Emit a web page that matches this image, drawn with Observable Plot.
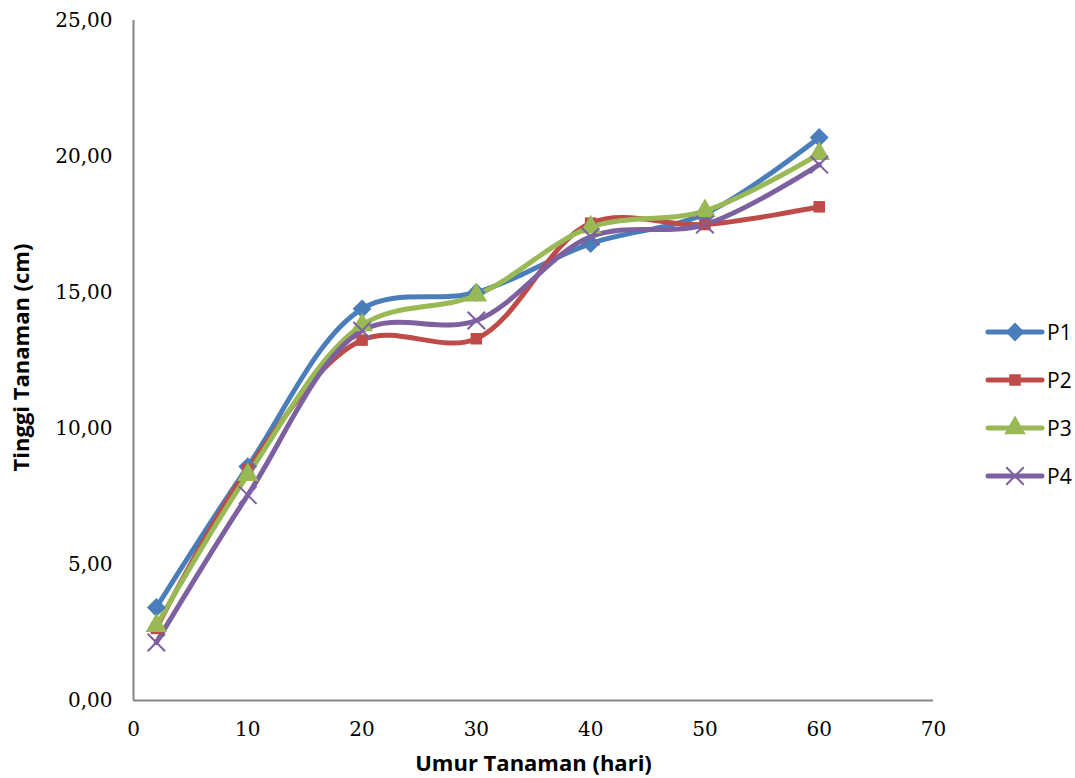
<!DOCTYPE html>
<html>
<head>
<meta charset="utf-8">
<script src="https://cdn.jsdelivr.net/npm/d3@7"></script>
<script src="https://cdn.jsdelivr.net/npm/@observablehq/plot@0.6"></script>
<style>
  html, body { margin: 0; padding: 0; background: #fff; }
  #wrap { position: relative; width: 1075px; height: 778px; }
  #legend { position: absolute; left: 985px; top: 0; font-family: "Open Sans", sans-serif; font-size: 21px; color: #000; }
  .item { position: absolute; left: 0; height: 28px; display: flex; align-items: center; white-space: nowrap; }
  .item span { margin-left: 2px; }
</style>
</head>
<body>
<div id="wrap"></div>
<script>
const days = [2, 10, 20, 30, 40, 50, 60];
const seriesNames = ["P1", "P2", "P3", "P4"];
const P1 = [3.42, 8.6, 14.4, 15.0, 16.8, 17.9, 20.7];
const P2 = [2.65, 8.5, 13.25, 13.3, 17.55, 17.5, 18.15];
const P3 = [2.75, 8.3, 13.8, 14.9, 17.4, 18.0, 20.1];
const P4 = [2.13, 7.55, 13.6, 13.97, 17.05, 17.5, 19.7];
const xTicks = [0, 10, 20, 30, 40, 50, 60, 70];
const yTicks = [0, 5, 10, 15, 20, 25];
const xTitle = "Umur Tanaman (hari)";
const yTitle = "Tinggi Tanaman (cm)";
const colors = ["#4A7EBB", "#BE4B48", "#98B954", "#7D60A0"];
const symbols = ["diamond2", "square", "triangle", "times"];

const valuesBySeries = [P1, P2, P3, P4];
const data = [];
seriesNames.forEach((s, i) => days.forEach((d, j) => data.push({series: s, day: d, value: valuesBySeries[i][j]})));

const fmt = v => d3.format(".2f")(v).replace(".", ",");
const titleFont = {fontFamily: "'Open Sans', sans-serif", fontWeight: "bold", fontSize: 22, fill: "#000", textAnchor: "middle"};

const marks = [
  Plot.ruleX([0], {stroke: "#868686", strokeWidth: 2}),
  Plot.ruleY([0], {stroke: "#868686", strokeWidth: 2}),
  Plot.axisX({ticks: xTicks, tickSize: 0, tickPadding: 21, fontSize: 20, label: null, tickFormat: d => String(d)}),
  Plot.axisY({ticks: yTicks, tickSize: 0, tickPadding: 21, fontSize: 20, tickFormat: fmt, label: null}),
  Plot.text([xTitle], {text: d => d, frameAnchor: "bottom", dy: 70, ...titleFont}),
  Plot.text([yTitle], {text: d => d, frameAnchor: "left", dx: -112, dy: -3, rotate: -90, ...titleFont})
];
seriesNames.forEach((s, i) => {
  const sub = data.filter(d => d.series === s);
  marks.push(Plot.line(sub, {x: "day", y: "value", stroke: colors[i], strokeWidth: 5, curve: "catmull-rom"}));
});
seriesNames.forEach((s, i) => {
  const sub = data.filter(d => d.series === s);
  const isStroke = symbols[i] === "times";
  const r = [8.5, 6.5, 8, 8][i];
  marks.push(Plot.dot(sub, isStroke
    ? {x: "day", y: "value", symbol: () => symbols[i], r, stroke: colors[i], strokeWidth: 2, fill: "none"}
    : {x: "day", y: "value", symbol: () => symbols[i], r, fill: colors[i], stroke: "none"}));
});

const chart = Plot.plot({
  width: 1075,
  height: 778,
  marginLeft: 133,
  marginRight: 142,
  marginTop: 20,
  marginBottom: 78,
  style: {fontFamily: "'DejaVu Serif', serif", color: "#000", background: "#fff"},
  x: {domain: [0, 70]},
  y: {domain: [0, 25]},
  symbol: {domain: symbols, range: symbols},
  marks
});
const wrap = document.getElementById("wrap");
wrap.appendChild(chart);

// legend
const legend = document.createElement("div");
legend.id = "legend";
const legendY = [332, 380, 428, 476];
seriesNames.forEach((s, i) => {
  const item = document.createElement("div");
  item.className = "item";
  item.style.top = (legendY[i] - 14) + "px";
  const svg = d3.create("svg").attr("width", 60).attr("height", 28);
  svg.append("line").attr("x1", 3).attr("x2", 57).attr("y1", 14).attr("y2", 14)
    .attr("stroke", colors[i]).attr("stroke-width", 5).attr("stroke-linecap", "round");
  const symMap = {diamond2: d3.symbolDiamond2, square: d3.symbolSquare, triangle: d3.symbolTriangle, times: d3.symbolTimes};
  const r = [8.5, 6.5, 8, 8][i];
  const p = svg.append("path").attr("transform", "translate(30,14)")
    .attr("d", d3.symbol(symMap[symbols[i]], Math.PI * r * r)());
  if (symbols[i] === "times") p.attr("fill", "none").attr("stroke", colors[i]).attr("stroke-width", 2);
  else p.attr("fill", colors[i]);
  item.appendChild(svg.node());
  const lab = document.createElement("span");
  lab.textContent = s;
  item.appendChild(lab);
  legend.appendChild(item);
});
wrap.appendChild(legend);
</script>
</body>
</html>
